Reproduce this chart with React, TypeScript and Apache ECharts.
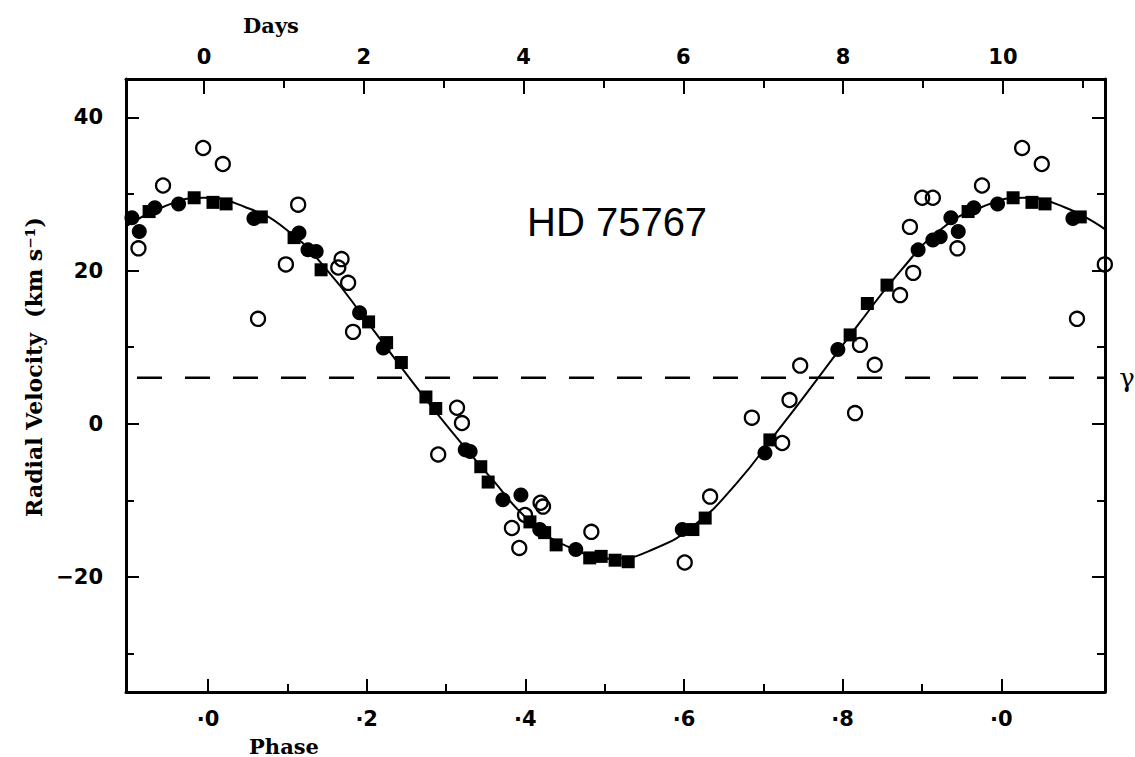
import React, { useEffect, useRef } from "react";
import * as echarts from "echarts";

// ---- data ----
const PERIOD = 10.25; // days per orbital cycle
const GAMMA = 6.0; // systemic velocity, km/s

// filled circles: phase, velocity
const fcPhase = [0.912, 0.921, 0.94, 0.969, 0.061, 0.116, 0.127, 0.137, 0.19, 0.219, 0.319, 0.325, 0.365, 0.387, 0.41, 0.454, 0.584, 0.685, 0.774, 0.872, 0.89, 0.899];
const fcVel = [26.9, 25.1, 28.2, 28.7, 26.8, 24.9, 22.7, 22.5, 14.5, 9.9, -3.4, -3.6, -9.9, -9.3, -13.8, -16.4, -13.8, -3.8, 9.7, 22.7, 24.0, 24.4];

// filled squares
const fsPhase = [0.933, 0.988, 0.011, 0.027, 0.07, 0.11, 0.143, 0.201, 0.223, 0.241, 0.271, 0.283, 0.338, 0.347, 0.398, 0.416, 0.43, 0.471, 0.485, 0.502, 0.518, 0.597, 0.612, 0.691, 0.789, 0.81, 0.834];
const fsVel = [27.7, 29.5, 28.9, 28.7, 27.0, 24.3, 20.1, 13.3, 10.6, 8.0, 3.5, 2.0, -5.6, -7.6, -12.8, -14.2, -15.8, -17.5, -17.3, -17.8, -18.0, -13.8, -12.3, -2.1, 11.6, 15.7, 18.1];

// open circles
const ocPhase = [0.999, 0.023, 0.95, 0.115, 0.92, 0.1, 0.066, 0.168, 0.164, 0.176, 0.182, 0.309, 0.315, 0.286, 0.392, 0.376, 0.385, 0.411, 0.414, 0.473, 0.587, 0.618, 0.706, 0.669, 0.715, 0.728, 0.801, 0.795, 0.819, 0.85, 0.866, 0.862, 0.877, 0.89];
const ocVel = [36.0, 33.9, 31.1, 28.6, 22.9, 20.8, 13.7, 21.5, 20.4, 18.4, 12.0, 2.1, 0.1, -4.0, -11.9, -13.6, -16.2, -10.3, -10.8, -14.1, -18.1, -9.5, -2.5, 0.8, 3.1, 7.6, 10.3, 1.4, 7.7, 16.8, 19.7, 25.7, 29.5, 29.5];

// orbit curve
const curvePhase = [-0.1, -0.05, 0, 0.05, 0.1, 0.15, 0.2, 0.25, 0.3, 0.35, 0.4, 0.45, 0.5, 0.55, 0.6, 0.65, 0.7, 0.75, 0.8, 0.85, 0.9, 0.95, 1.0, 1.05, 1.1];
const curveVel = [25.4, 28.3, 29.5, 28.3, 25.4, 20.1, 13.2, 6.1, -0.7, -7.0, -12.9, -16.3, -17.6, -16.3, -13.1, -7.8, -1.0, 6.0, 13.1, 19.9, 25.4, 28.3, 29.5, 28.3, 25.4];

// axes
const DAY_MIN = -0.976;
const DAY_MAX = 11.277;
const DAY_MAJOR = [0, 2, 4, 6, 8, 10];
const DAY_MINOR = [1, 3, 5, 7, 9, 11];
const PH_AX_MIN = -0.1034;
const PH_AX_MAX = 1.1307;
const PH_MAJOR = [0, 0.2, 0.4, 0.6, 0.8, 1.0];
const PH_MINOR = [0.1, 0.3, 0.5, 0.7, 0.9];
const V_MIN = -35;
const V_MAX = 45;
const V_MAJOR = [-20, 0, 20, 40];
const V_MINOR = [-30, -10, 10, 30];

function fold(ph: number[], v: number[]) {
  const lo = DAY_MIN / PERIOD - 0.005;
  const hi = DAY_MAX / PERIOD + 0.005;
  const out: number[][] = [];
  ph.forEach((p, i) => {
    out.push([p * PERIOD, v[i]]);
    if (p + 1 <= hi) out.push([(p + 1) * PERIOD, v[i]]);
    if (p - 1 >= lo) out.push([(p - 1) * PERIOD, v[i]]);
  });
  return out;
}

const BLACK = "#000";
const numFont = { fontFamily: "DejaVu Sans", fontWeight: "bold" as const, fontSize: 21, color: BLACK };

function xAx(min: number, max: number, pos: string, ticks: number[], len: number, label: any, line: boolean) {
  return {
    type: "value",
    position: pos,
    min,
    max,
    axisLine: { show: line, onZero: false, lineStyle: { color: BLACK, width: 3 } },
    axisTick: { show: true, inside: true, length: len, customValues: ticks, lineStyle: { color: BLACK, width: 2 } },
    axisLabel: label,
    splitLine: { show: false },
  };
}
function yAx(pos: string, ticks: number[], len: number, label: any, line: boolean) {
  return {
    type: "value",
    position: pos,
    min: V_MIN,
    max: V_MAX,
    axisLine: { show: line, onZero: false, lineStyle: { color: BLACK, width: 3 } },
    axisTick: { show: true, inside: true, length: len, customValues: ticks, lineStyle: { color: BLACK, width: 2 } },
    axisLabel: label,
    splitLine: { show: false },
  };
}

export default function App() {
  const ref = useRef<HTMLDivElement>(null);
  useEffect(() => {
    if (!ref.current) return;
    const chart = echarts.init(ref.current, null, { renderer: "svg" });
    const option: any = {
      animation: false,
      backgroundColor: "#fff",
      grid: { left: 126, right: 30, top: 79, bottom: 65, containLabel: false },
      xAxis: [
        xAx(DAY_MIN, DAY_MAX, "top", DAY_MAJOR, 15, { show: true, customValues: DAY_MAJOR, margin: 12, ...numFont }, true),
        xAx(DAY_MIN, DAY_MAX, "top", DAY_MINOR, 9, { show: false }, false),
        xAx(PH_AX_MIN, PH_AX_MAX, "bottom", PH_MAJOR, 13, {
          show: true,
          customValues: PH_MAJOR,
          margin: 16,
          ...numFont,
          formatter: (v: number) => "·" + (Math.round(v * 10) % 10),
        }, true),
        xAx(PH_AX_MIN, PH_AX_MAX, "bottom", PH_MINOR, 8, { show: false }, false),
      ],
      yAxis: [
        yAx("left", V_MAJOR, 13, {
          show: true,
          customValues: V_MAJOR,
          margin: 23,
          ...numFont,
          formatter: (v: number) => (v < 0 ? "−" + Math.abs(v) : String(v)),
        }, true),
        yAx("left", V_MINOR, 8, { show: false }, false),
        yAx("right", V_MAJOR, 13, { show: false }, true),
        yAx("right", V_MINOR, 8, { show: false }, false),
      ],
      series: [
        {
          type: "line",
          xAxisIndex: 0,
          yAxisIndex: 0,
          data: [[DAY_MIN, GAMMA], [DAY_MAX, GAMMA]],
          showSymbol: false,
          symbol: "none",
          lineStyle: { color: BLACK, width: 2.5, type: [25, 23], dashOffset: 37 },
          z: 1,
        },
        {
          type: "line",
          xAxisIndex: 0,
          yAxisIndex: 0,
          data: curvePhase.map((p, i) => [p * PERIOD, curveVel[i]]),
          smooth: 0.5,
          showSymbol: false,
          symbol: "none",
          clip: true,
          lineStyle: { color: BLACK, width: 2 },
          z: 2,
        },
        {
          type: "scatter",
          xAxisIndex: 0,
          yAxisIndex: 0,
          data: fold(fcPhase, fcVel),
          symbol: "circle",
          symbolSize: 15,
          itemStyle: { color: BLACK, opacity: 1 },
          z: 3,
        },
        {
          type: "scatter",
          xAxisIndex: 0,
          yAxisIndex: 0,
          data: fold(fsPhase, fsVel),
          symbol: "rect",
          symbolSize: 13,
          itemStyle: { color: BLACK, opacity: 1 },
          z: 3,
        },
        {
          type: "scatter",
          xAxisIndex: 0,
          yAxisIndex: 0,
          data: fold(ocPhase, ocVel),
          symbol: "circle",
          symbolSize: 14,
          itemStyle: { color: "rgba(255,255,255,0)", borderColor: BLACK, borderWidth: 2.3, opacity: 1 },
          z: 4,
        },
      ],
      graphic: [
        {
          type: "text",
          x: 271,
          y: 25,
          style: { text: "Days", fontFamily: "DejaVu Serif", fontWeight: "bold", fontSize: 21, fill: BLACK, align: "center", verticalAlign: "middle" },
        },
        {
          type: "text",
          x: 284,
          y: 746,
          style: { text: "Phase", fontFamily: "DejaVu Serif", fontWeight: "bold", fontSize: 21, fill: BLACK, align: "center", verticalAlign: "middle" },
        },
        {
          type: "text",
          x: 34,
          y: 367,
          rotation: Math.PI / 2,
          style: { text: "Radial Velocity  (km s⁻¹)", fontFamily: "DejaVu Serif", fontWeight: "bold", fontSize: 22, fill: BLACK, align: "center", verticalAlign: "middle" },
        },
        {
          type: "text",
          x: 527,
          y: 222,
          style: { text: "HD 75767", fontFamily: "Liberation Sans", fontWeight: "normal", fontSize: 40, fill: BLACK, align: "left", verticalAlign: "middle" },
        },
        {
          type: "text",
          x: 1127,
          y: 378,
          style: { text: "γ", fontFamily: "DejaVu Serif", fontSize: 26, fill: BLACK, align: "center", verticalAlign: "middle" },
        },
      ],
    };
    chart.setOption(option);
    return () => chart.dispose();
  }, []);
  return <div ref={ref} style={{ position: "fixed", left: 0, top: 0, width: 1135, height: 757 }} />;
}
